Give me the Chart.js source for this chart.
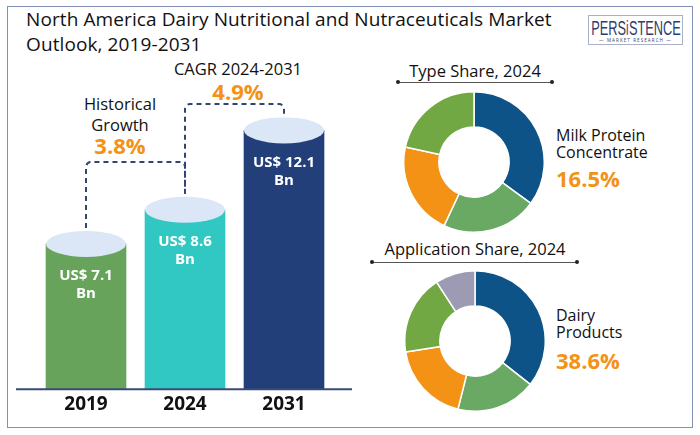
<!DOCTYPE html>
<html>
<head>
<meta charset="utf-8">
<script src="https://cdn.jsdelivr.net/npm/chart.js@4"></script>
<style>
body { margin:0; width:700px; height:435px; background:#fff; position:relative; overflow:hidden; font-family:"Open Sans", sans-serif; color:#111; }
.frame { position:absolute; left:7px; top:6px; width:686px; height:422px; border:1.5px solid #8190b4; box-sizing:border-box; }
canvas { position:absolute; }
.t { position:absolute; white-space:nowrap; }
.c { transform:translate(-50%,-50%); text-align:center; }
.pct { color:#f39214; font-weight:700; font-size:22px; }
.logo { position:absolute; left:588px; top:15px; width:95px; height:30px; border:1px solid #a9b0c8; box-sizing:border-box; color:#2e3d6e; overflow:hidden; }
.logo .name { position:absolute; left:46.5px; top:12px; transform:translate(-50%,-50%) scaleX(0.64); font-family:"Liberation Sans",sans-serif; font-size:20px; line-height:20px; }
.logo .sub { position:absolute; left:0; width:93px; top:22px; text-align:center; font-size:4.5px; letter-spacing:1.1px; line-height:5px; }
.sect { position:absolute; height:0; border-top:1.2px solid #555; }
.sect:before, .sect:after { content:""; position:absolute; top:-3px; width:4px; height:4px; border-radius:50%; background:#222; }
.sect:before { left:-2px; } .sect:after { right:-2px; }
</style>
</head>
<body>
<div class="frame"></div>

<div class="t" style="left:26px; top:7px; font-size:19px; line-height:25px; letter-spacing:0.1px;">North America Dairy Nutritional and Nutraceuticals Market<br>Outlook, 2019-2031</div>

<div class="logo"><div class="name">PERS<span style="color:#d8232a">i</span>STENCE</div><div class="sub">— MARKET RESEARCH —</div></div>

<div class="t c" style="left:120px; top:114px; font-size:16.5px; line-height:21px;">Historical<br>Growth</div>
<div class="t c pct" style="left:120px; top:145px;">3.8%</div>
<div class="t c" style="left:238px; top:68px; font-size:16.5px;">CAGR 2024-2031</div>
<div class="t c pct" style="left:238px; top:91px;">4.9%</div>

<div class="t c" style="left:475px; top:70px; font-size:16.5px;">Type Share, 2024</div>
<div class="sect" style="left:398px; top:82px; width:154px;"></div>
<div class="t" style="left:556px; top:127px; font-size:16px; line-height:17px;">Milk Protein<br>Concentrate</div>
<div class="t pct" style="left:556px; top:163px;">16.5%</div>

<div class="t c" style="left:475px; top:248px; font-size:16.5px;">Application Share, 2024</div>
<div class="sect" style="left:372px; top:262px; width:205px;"></div>
<div class="t" style="left:556px; top:307px; font-size:16px; line-height:17px;">Dairy<br>Products</div>
<div class="t pct" style="left:556px; top:345px;">38.6%</div>

<canvas id="bars" width="360" height="435" style="left:0; top:0;"></canvas>
<canvas id="typeDonut" width="142" height="142" style="left:403px; top:91px;"></canvas>
<canvas id="appDonut" width="142" height="142" style="left:404px; top:270px;"></canvas>

<script>
// market size, US$ Bn
const years = ["2019", "2024", "2031"]
const marketSize = [7.1, 8.6, 12.1]
const barColors = ["#67a35b", "#31c7c3", "#223f7a"]

// donut shares
const typeLabels = ["Milk Protein Concentrate", "Segment B", "Segment C", "Segment D"]
const typeShare = [35, 22, 21.4, 21.6]
const typeColors = ["#0e5388", "#6aa963", "#f39214", "#72a844"]

const appLabels = ["Dairy Products", "Segment B", "Segment C", "Segment D", "Segment E"]
const appShare = [35.6, 18.3, 18.6, 18.3, 9.2]
const appColors = ["#0e5388", "#6aa963", "#f39214", "#72a844", "#9d9ab4"]

// y of the dashed connector runs, matched to the annotation text
const connectorLevels = [162, 104]

const cylinderPlugin = {
    id: "cylinders",
    afterDatasetsDraw(chart) {
        const ctx = chart.ctx
        const bars = chart.getDatasetMeta(0).data
        const area = chart.chartArea

        // baseline
        ctx.save()
        ctx.strokeStyle = "#3a4a78"
        ctx.lineWidth = 2
        ctx.beginPath()
        ctx.moveTo(16, area.bottom)
        ctx.lineTo(352, area.bottom)
        ctx.stroke()

        bars.forEach((bar, i) => {
            ctx.fillStyle = "#dbe6f6"
            ctx.beginPath()
            ctx.ellipse(bar.x, bar.y, bar.width / 2, 13, 0, 0, Math.PI * 2)
            ctx.fill()

            ctx.fillStyle = "#fff"
            ctx.font = "bold 15px 'Open Sans', sans-serif"
            ctx.textAlign = "center"
            ctx.textBaseline = "middle"
            ctx.fillText("US$ " + marketSize[i], bar.x, bar.y + 32)
            ctx.fillText("Bn", bar.x, bar.y + 50)
        })

        // dashed connectors
        ctx.strokeStyle = "#2f4674"
        ctx.lineWidth = 2
        ctx.setLineDash([5, 4])
        for (let i = 0; i < bars.length - 1; i++) {
            const a = bars[i], b = bars[i + 1]
            const lvl = connectorLevels[i]
            ctx.beginPath()
            ctx.moveTo(a.x, a.y - 16)
            ctx.arcTo(a.x, lvl, a.x + 6, lvl, 5)
            ctx.arcTo(b.x, lvl, b.x, lvl + 6, 5)
            ctx.lineTo(b.x, b.y - 16)
            ctx.stroke()
        }
        ctx.restore()
    }
}

new Chart(document.getElementById("bars"), {
    type: "bar",
    data: {
        labels: years,
        datasets: [{
            data: marketSize,
            backgroundColor: barColors,
            barThickness: 80
        }]
    },
    options: {
        responsive: false,
        animation: false,
        devicePixelRatio: 1,
        layout: { padding: { left: 36.5, right: 26.5, top: 60, bottom: 15 } },
        plugins: { legend: { display: false }, tooltip: { enabled: false } },
        scales: {
            y: { display: false, min: 0.7, max: 15.2 },
            x: {
                grid: { display: false, drawTicks: false },
                border: { display: false },
                ticks: {
                    padding: 4,
                    color: "#111",
                    font: { family: "'Open Sans', sans-serif", size: 19, weight: "bold" }
                }
            }
        }
    },
    plugins: [cylinderPlugin]
})

function donut(id, labels, values, colors) {
    new Chart(document.getElementById(id), {
        type: "doughnut",
        data: {
            labels: labels,
            datasets: [{
                data: values,
                backgroundColor: colors,
                borderColor: "#fff",
                borderWidth: 1.5
            }]
        },
        options: {
            responsive: false,
            animation: false,
            devicePixelRatio: 1,
            cutout: "50%",
            plugins: { legend: { display: false }, tooltip: { enabled: false } }
        }
    })
}

donut("typeDonut", typeLabels, typeShare, typeColors)
donut("appDonut", appLabels, appShare, appColors)
</script>
</body>
</html>
